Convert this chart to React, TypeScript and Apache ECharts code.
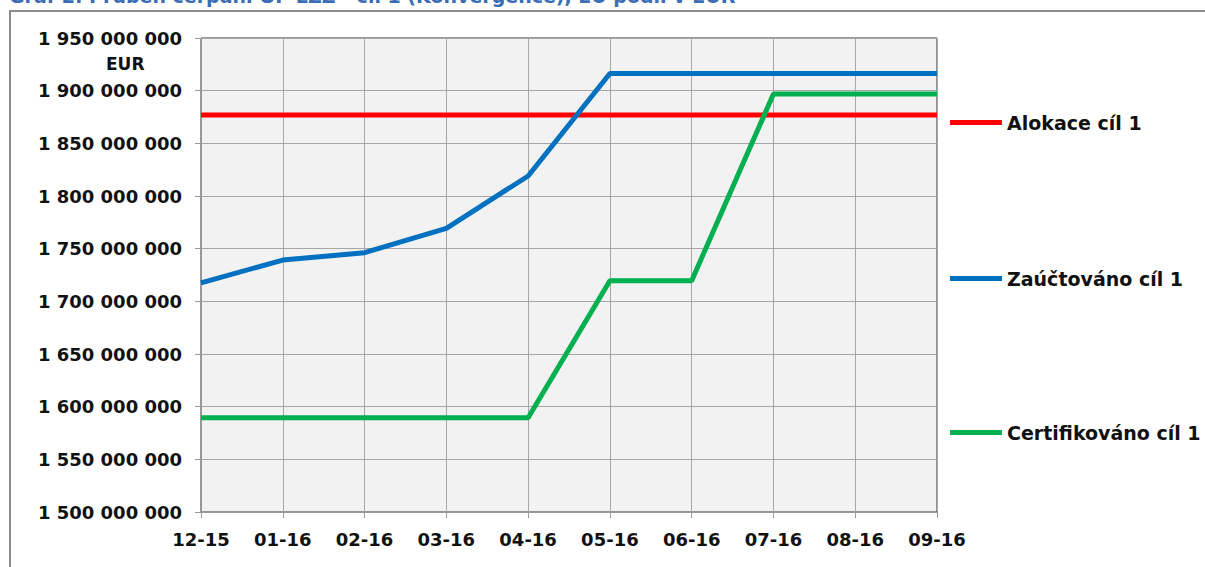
import React, { useEffect, useRef } from "react";
import * as echarts from "echarts";

const months = ["12-15", "01-16", "02-16", "03-16", "04-16", "05-16", "06-16", "07-16", "08-16", "09-16"];
const allocation = [1877000000, 1877000000, 1877000000, 1877000000, 1877000000, 1877000000, 1877000000, 1877000000, 1877000000, 1877000000];
const booked = [1717500000, 1739200000, 1746200000, 1769300000, 1819000000, 1916300000, 1916300000, 1916300000, 1916300000, 1916300000];
const certified = [1589500000, 1589500000, 1589500000, 1589500000, 1589500000, 1719600000, 1719600000, 1896800000, 1896800000, 1896800000];
const seriesNames = ["Alokace cíl 1", "Zaúčtováno cíl 1", "Certifikováno cíl 1"];
const titleText = "Graf 2: Průběh čerpání OP LZZ - cíl 1 (Konvergence), EU podíl v EUR";
const unitText = "EUR";

const FONT = "DejaVu Sans";

const fmt = (v: number) => String(Math.round(v)).replace(/\B(?=(\d{3})+(?!\d))/g, " ");

export default function App() {
  const ref = useRef<HTMLDivElement>(null);
  useEffect(() => {
    if (!ref.current) return;
    const chart = echarts.init(ref.current, null, { renderer: "svg" });
    const legendBase = {
      orient: "vertical",
      left: 945,
      icon: "rect",
      itemWidth: 52,
      itemHeight: 5,
      textStyle: { fontFamily: FONT, fontSize: 19, fontWeight: "bold", color: "#111" },
      selectedMode: false,
    };
    chart.setOption({
      animation: false,
      backgroundColor: "#ffffff",
      textStyle: { fontFamily: FONT },
      grid: {
        left: 201,
        right: 268,
        top: 38,
        bottom: 55,
        show: true,
        backgroundColor: "#F2F2F2",
        borderColor: "#333333",
        borderWidth: 1,
      },
      legend: [
        { ...legendBase, top: 108, data: [seriesNames[0]] },
        { ...legendBase, top: 264, data: [seriesNames[1]] },
        { ...legendBase, top: 418, data: [seriesNames[2]] },
      ],
      graphic: [
        {
          type: "polyline",
          shape: { points: [[10, 567], [10, 11], [1205, 11]] },
          style: { stroke: "#8c8c8c", lineWidth: 2, fill: null },
          silent: true,
        },
        {
          type: "text",
          left: 9,
          top: -14,
          style: { text: titleText, fontFamily: FONT, fontSize: 19, fontWeight: "bold", fill: "#3A6DB5" },
          silent: true,
        },
        {
          type: "text",
          left: 106,
          top: 55,
          style: { text: unitText, fontFamily: FONT, fontSize: 17, fontWeight: "bold", fill: "#111" },
          silent: true,
        },
      ],
      xAxis: {
        type: "category",
        data: months,
        boundaryGap: false,
        axisLine: { show: true, lineStyle: { color: "#999999", width: 1 } },
        axisTick: { show: true, length: 6, lineStyle: { color: "#999999" } },
        axisLabel: { fontFamily: FONT, fontSize: 18, fontWeight: "bold", color: "#111", margin: 18 },
        splitLine: { show: true, lineStyle: { color: "#A6A6A6", width: 1 } },
      },
      yAxis: {
        type: "value",
        min: 1500000000,
        max: 1950000000,
        interval: 50000000,
        axisLine: { show: true, lineStyle: { color: "#999999", width: 1 } },
        axisTick: { show: true, length: 6, lineStyle: { color: "#999999" } },
        axisLabel: { fontFamily: FONT, fontSize: 18, fontWeight: "bold", color: "#111", margin: 19, formatter: fmt },
        splitLine: { show: true, lineStyle: { color: "#A6A6A6", width: 1 } },
      },
      series: [
        { name: seriesNames[0], type: "line", data: allocation, symbol: "none", color: "#FF0000", lineStyle: { width: 5, color: "#FF0000" } },
        { name: seriesNames[1], type: "line", data: booked, symbol: "none", color: "#0070C0", lineStyle: { width: 5, color: "#0070C0" } },
        { name: seriesNames[2], type: "line", data: certified, symbol: "none", color: "#00B050", lineStyle: { width: 5, color: "#00B050" } },
      ],
    });
    return () => chart.dispose();
  }, []);
  return <div ref={ref} style={{ width: 1205, height: 567, position: "absolute", left: 0, top: 0 }} />;
}
